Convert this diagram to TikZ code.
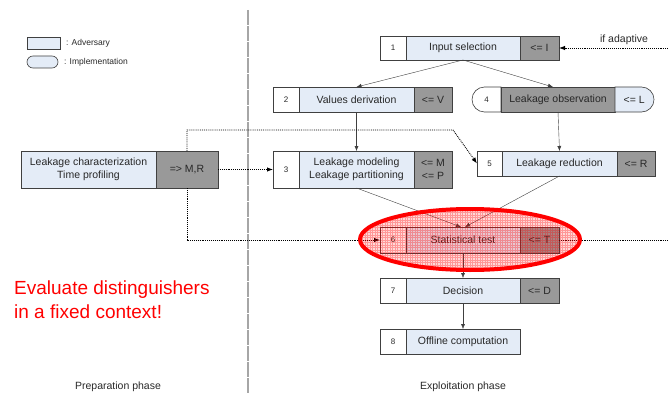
\documentclass[tikz,border=0pt]{standalone}
\usepackage{fontspec}
\setmainfont{Liberation Sans}
\usetikzlibrary{positioning, arrows.meta, shapes.misc, shapes.geometric}

\definecolor{advblue}{RGB}{228,236,247}
\definecolor{impgray}{RGB}{153,153,153}
\definecolor{edgegray}{RGB}{64,64,64}
\definecolor{txtgray}{RGB}{40,40,40}

\tikzset{
  cell/.style={draw=edgegray, line width=0.6pt, outer sep=0pt, inner sep=1pt, align=center,
    text=txtgray, font=\fontsize{10.5}{13}\selectfont},
  num/.style={cell, fill=white, minimum width=26pt, font=\fontsize{8}{9}\selectfont},
  adv/.style={cell, fill=advblue},
  imp/.style={cell, fill=impgray},
  lbl/.style={text=txtgray, inner sep=1pt, font=\fontsize{10.5}{13}\selectfont},
  flow/.style={draw=edgegray, line width=0.4pt, -{Latex[length=5pt,width=4pt]}},
  dotflow/.style={draw=black, line width=0.9pt, densely dotted, -{Latex[length=6pt,width=4.5pt]}}
}

\begin{document}
\begin{tikzpicture}[x=1pt, y=-1pt]
\useasboundingbox (0,0) rectangle (668,393);

% phase separator
\draw[gray!70, line width=1.6pt, dash pattern=on 15pt off 1pt] (248,10) -- (248,393);

% legend
\node[adv, minimum width=33pt, minimum height=12pt, anchor=west] (advkey) at (27,43) {};
\node[lbl, right=5pt of advkey, font=\fontsize{8.5}{10}\selectfont] (advtxt) {: Adversary};
\node[adv, rounded rectangle, minimum width=33pt, minimum height=12pt, anchor=west] (impkey) at (27,62) {};
\node[lbl, right=5pt of impkey, font=\fontsize{8.5}{10}\selectfont] (imptxt) {: Implementation};

% preparation phase
\node[adv, minimum width=135pt, minimum height=37pt, anchor=north west] (t0) at (21,151) {Leakage characterization\\Time profiling};
\node[imp, minimum width=62pt, minimum height=37pt, right=0pt of t0] (v0) {=> M,R};

% exploitation phase
\node[num, minimum height=24pt, anchor=north west] (n1) at (380,36) {1};
\node[adv, minimum height=24pt, minimum width=114pt, right=0pt of n1] (t1) {Input selection};
\node[imp, minimum height=24pt, minimum width=39pt, right=0pt of t1] (v1) {<= I};

\node[num, minimum height=25pt, anchor=north west] (n2) at (273,87) {2};
\node[adv, minimum height=25pt, minimum width=115pt, right=0pt of n2] (t2) {Values derivation};
\node[imp, minimum height=25pt, minimum width=38pt, right=0pt of t2] (v2) {<= V};

\node[num, rounded rectangle, rounded rectangle right arc=none, minimum height=25pt, minimum width=31pt, anchor=west] (n4) at (472,99.5) {4};
\node[imp, minimum height=25pt, minimum width=114pt, right=0pt of n4] (t4) {Leakage observation};
\node[adv, rounded rectangle, rounded rectangle left arc=none, minimum height=25pt, minimum width=41pt, right=0pt of t4] (v4) {<= L};

\node[num, minimum height=37pt, anchor=north west] (n3) at (273,151) {3};
\node[adv, minimum height=37pt, minimum width=115pt, right=0pt of n3] (t3) {Leakage modeling\\Leakage partitioning};
\node[imp, minimum height=37pt, minimum width=38pt, right=0pt of t3] (v3) {<= M\\<= P};

\node[num, minimum height=25pt, minimum width=25pt, anchor=north west] (n5) at (477,151) {5};
\node[adv, minimum height=25pt, minimum width=115pt, right=0pt of n5] (t5) {Leakage reduction};
\node[imp, minimum height=25pt, minimum width=38pt, right=0pt of t5] (v5) {<= R};

\node[num, minimum height=26pt, anchor=north west] (n6) at (380,227) {6};
\node[adv, minimum height=26pt, minimum width=114pt, right=0pt of n6] (t6) {Statistical test};
\node[imp, minimum height=26pt, minimum width=39pt, right=0pt of t6] (v6) {<= T};

\node[num, minimum height=25pt, anchor=north west] (n7) at (380,278) {7};
\node[adv, minimum height=25pt, minimum width=114pt, right=0pt of n7] (t7) {Decision};
\node[imp, minimum height=25pt, minimum width=39pt, right=0pt of t7] (v7) {<= D};

\node[num, minimum height=25pt, anchor=north west] (n8) at (380,329) {8};
\node[adv, minimum height=25pt, minimum width=114pt, right=0pt of n8] (t8) {Offline computation};

% flow
\draw[flow] (t1.south) -- (t2.north);
\draw[flow] (t1.south) -- ([xshift=-5pt]t4.north);
\draw[flow] (t2.south) -- (t3.north);
\draw[flow] (t4.south) -- (t5.north);
\draw[flow] (t3.south) -- ([xshift=-2pt]t6.north);
\draw[flow] (t5.south) -- ([xshift=2pt]t6.north);
\draw[flow] (t6.south) -- (t7.north);
\draw[flow] (t7.south) -- (t8.north);

% profiling results
\coordinate (bend) at (453,130);
\coordinate (adapt) at (668,48);
\coordinate (tside) at (668,240);
\draw[dotflow] (v0.east) -- (n3.west);
\draw[dotflow] (v0.north) |- (bend) -- (n5.west);
\draw[dotflow] (v0.south) |- (n6.west);
\draw[dotflow] (adapt) -- (v1.east);
\draw[dotflow, -] (tside) -- (v6.east);
\node[lbl] (adtxt) at (624,40) {if adaptive};

% highlight
\node[ellipse, draw=red, line width=4pt, fill=red, fill opacity=0.15,
  minimum width=220pt, minimum height=61pt] (focus) at (470,239.5) {};
\begin{scope}
  \clip (focus.center) ellipse [x radius=110, y radius=30.5];
  \draw[red, opacity=0.3, line width=0.4pt, step=2.5pt] (358,207) grid (582,272);
\end{scope}
\node[anchor=north west, align=left, text=red, inner sep=0pt,
  font=\fontsize{19}{24}\selectfont] (claim) at (14,281) {Evaluate distinguishers\\in a fixed context!};

\node[lbl] (prep) at (118,387) {Preparation phase};
\node[lbl] (expl) at (463,387) {Exploitation phase};
\end{tikzpicture}
\end{document}
